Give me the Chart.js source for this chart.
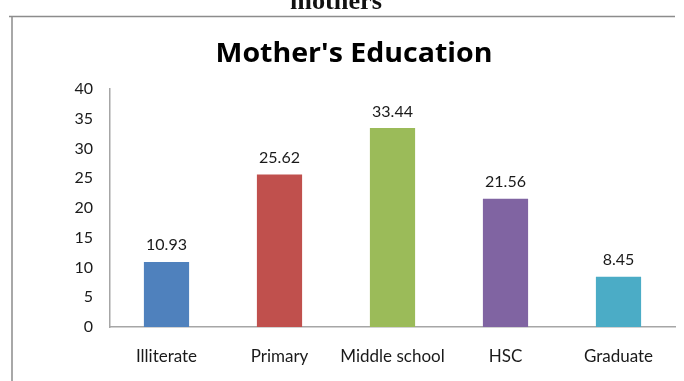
<!DOCTYPE html>
<html>
<head>
<meta charset="utf-8">
<script src="https://cdn.jsdelivr.net/npm/chart.js@4.4.1/dist/chart.umd.min.js"></script>
<style>
  html, body { margin: 0; padding: 0; background: #fff; }
  #wrap { width: 684px; height: 381px; position: relative; }
</style>
</head>
<body>
<div id="wrap"><canvas id="eduChart"></canvas></div>
<script>
const categories = ['Illiterate', 'Primary', 'Middle school', 'HSC', 'Graduate'];
const percentages = [10.93, 25.62, 33.44, 21.56, 8.45];
const barColors = ['#4f81bd', '#c0504d', '#9bbb59', '#8064a2', '#4bacc6'];
const yTicks = [0, 5, 10, 15, 20, 25, 30, 35, 40];

const FONT = 'Lato, "Open Sans", sans-serif';

// draws text squeezed/stretched to a target width
function fitText(ctx, text, cx, baseline, width) {
    const w = ctx.measureText(text).width;
    ctx.save();
    ctx.translate(cx, baseline);
    ctx.scale(width / w, 1);
    ctx.textAlign = 'center';
    ctx.fillText(text, 0, 0);
    ctx.restore();
}

// frame, clipped caption above the frame, title and value labels
const decorations = {
    id: 'decorations',
    beforeDraw(chart) {
        const ctx = chart.ctx;
        ctx.save();
        ctx.fillStyle = '#fff';
        ctx.fillRect(0, 0, chart.width, chart.height);

        ctx.strokeStyle = '#8c8c8c';
        ctx.lineWidth = 1.5;
        ctx.beginPath();
        ctx.moveTo(9, 16.5);
        ctx.lineTo(675, 16.5);
        ctx.moveTo(12, 16);
        ctx.lineTo(12, chart.height);
        ctx.stroke();

        ctx.fillStyle = '#111';
        ctx.font = 'bold 26px "Liberation Serif", "DejaVu Serif", serif';
        ctx.textBaseline = 'alphabetic';
        fitText(ctx, 'mothers', 336, 9, 92);

        ctx.font = 'bold 26px "Open Sans", ' + FONT;
        ctx.fillStyle = '#000';
        fitText(ctx, "Mother's Education", 354, 61.5, 277);
        ctx.restore();
    },
    afterDatasetsDraw(chart) {
        const ctx = chart.ctx;
        const meta = chart.getDatasetMeta(0);
        ctx.save();
        ctx.fillStyle = '#1a1a1a';
        ctx.font = '16px ' + FONT;
        ctx.textAlign = 'center';
        ctx.textBaseline = 'alphabetic';
        meta.data.forEach((bar, i) => {
            ctx.fillText(percentages[i].toFixed(2), bar.x, bar.y - 11.5);
        });
        ctx.restore();
    }
};

new Chart(document.getElementById('eduChart'), {
    type: 'bar',
    data: {
        labels: categories,
        datasets: [{
            data: percentages,
            backgroundColor: barColors,
            borderWidth: 0,
            barPercentage: 0.4,
            categoryPercentage: 1.0
        }]
    },
    options: {
        responsive: true,
        maintainAspectRatio: false,
        animation: false,
        layout: {
            padding: { top: 89, left: 0, right: 9, bottom: 0 }
        },
        plugins: {
            legend: { display: false },
            title: { display: false },
            tooltip: { enabled: false }
        },
        scales: {
            x: {
                grid: { display: false, drawTicks: false },
                border: { display: true, color: '#a6a6a6', width: 1.5 },
                ticks: {
                    color: '#1a1a1a',
                    font: { family: FONT, size: 17 },
                    padding: 19,
                    maxRotation: 0
                },
                afterFit(scale) { scale.height = 54; }
            },
            y: {
                min: 0,
                max: 40,
                afterBuildTicks(scale) {
                    scale.ticks = yTicks.map(v => ({ value: v }));
                },
                grid: { display: false, drawTicks: false },
                border: { display: true, color: '#a6a6a6', width: 1.5 },
                ticks: {
                    color: '#1a1a1a',
                    font: { family: FONT, size: 16 },
                    padding: 17
                },
                afterFit(scale) { scale.width = 110; }
            }
        }
    },
    plugins: [decorations]
});
</script>
</body>
</html>
